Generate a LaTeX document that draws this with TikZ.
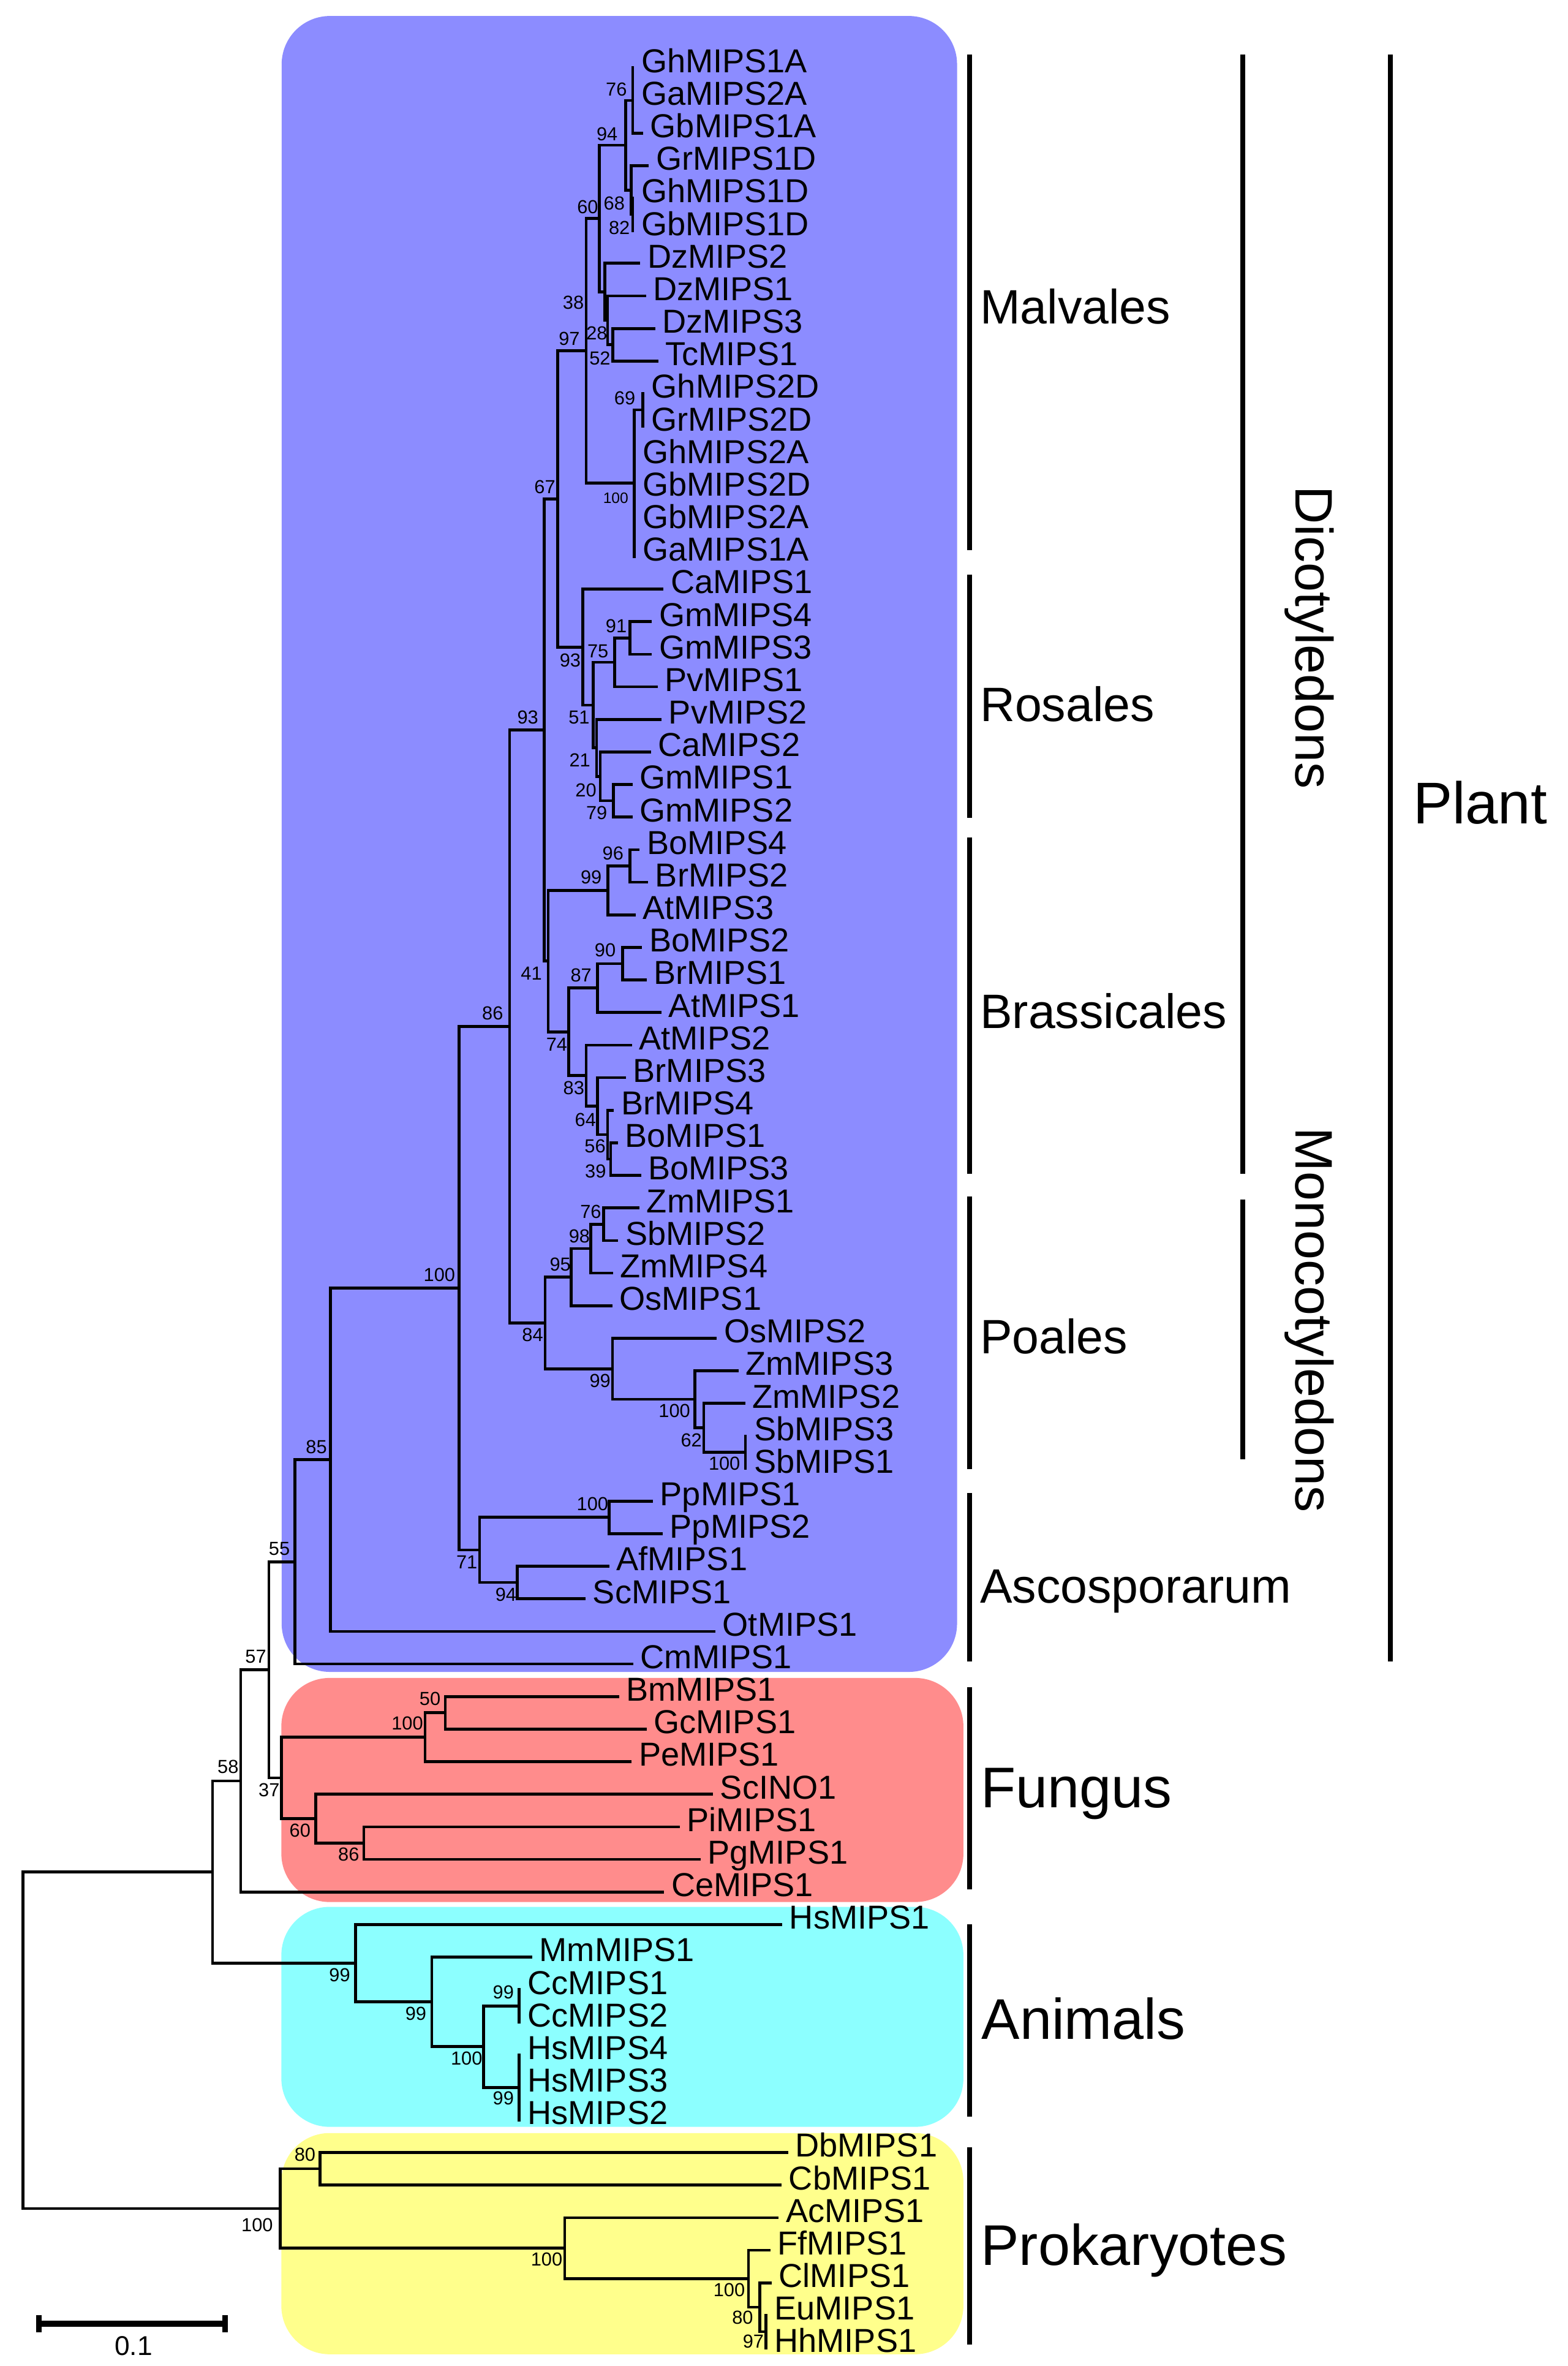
\documentclass[tikz,border=0pt]{standalone}
\usepackage{fontspec}
\setmainfont{Liberation Sans}
\definecolor{plantc}{RGB}{140,140,255}
\definecolor{fungc}{RGB}{255,140,140}
\definecolor{animc}{RGB}{140,255,255}
\definecolor{prokc}{RGB}{255,255,140}
\tikzset{
  br/.style={line width=1.9pt, line cap=rect},
  leaf/.style={anchor=base west, inner sep=0pt, font=\fontsize{22}{24}\selectfont},
  bs/.style={anchor=east, inner sep=0pt, font=\fontsize{12.5}{13}\selectfont},
  bss/.style={anchor=east, inner sep=0pt, font=\fontsize{10}{11}\selectfont},
  ord/.style={anchor=base west, inner sep=0pt, font=\fontsize{32}{34}\selectfont},
  king/.style={anchor=base west, inner sep=0pt, font=\fontsize{38}{40}\selectfont},
  rotlab/.style={anchor=base, inner sep=0pt, rotate=-90, font=\fontsize{35}{37}\selectfont},
  brk/.style={line width=3.2pt},
  boxr/.style={rounded corners=32pt}
}
\newcommand\mkleaf[4]{\coordinate (#1) at (#2,{45+(#3-1)*21.586});\node[leaf] (L#1) at ([xshift=5.5pt,yshift=-3pt]#1) {#4};}
\newcommand\mkbr[2]{\foreach \cc in {#2} {\draw[br] (#1) |- (\cc);}}
\begin{document}
\begin{tikzpicture}[x=1pt,y=-1pt]
\fill[white] (0,0) rectangle (1039,1568);
\useasboundingbox (0,0) rectangle (1039,1568);
% coloured groups
\fill[plantc, boxr] (186.7,10.6) rectangle (634.4,1108);
\fill[fungc, boxr] (186.5,1112) rectangle (638.6,1260.5);
\fill[animc, boxr] (186.5,1263.7) rectangle (638.6,1409.5);
\fill[prokc, boxr] (186.5,1413.6) rectangle (638.6,1560.2);
% leaves
\mkleaf{t1}{419.4}{1}{GhMIPS1A}
\mkleaf{t2}{419.4}{2}{GaMIPS2A}
\mkleaf{t3}{425.4}{3}{GbMIPS1A}
\mkleaf{t4}{429.2}{4}{GrMIPS1D}
\mkleaf{t5}{419.4}{5}{GhMIPS1D}
\mkleaf{t6}{419.4}{6}{GbMIPS1D}
\mkleaf{t7}{423.5}{7}{DzMIPS2}
\mkleaf{t8}{427.2}{8}{DzMIPS1}
\mkleaf{t9}{433.5}{9}{DzMIPS3}
\mkleaf{t10}{435.3}{10}{TcMIPS1}
\mkleaf{t11}{426.2}{11}{GhMIPS2D}
\mkleaf{t12}{426.2}{12}{GrMIPS2D}
\mkleaf{t13}{420.4}{13}{GhMIPS2A}
\mkleaf{t14}{420.4}{14}{GbMIPS2D}
\mkleaf{t15}{420.4}{15}{GbMIPS2A}
\mkleaf{t16}{420.4}{16}{GaMIPS1A}
\mkleaf{t17}{438.9}{17}{CaMIPS1}
\mkleaf{t18}{431.2}{18}{GmMIPS4}
\mkleaf{t19}{431.2}{19}{GmMIPS3}
\mkleaf{t20}{434.9}{20}{PvMIPS1}
\mkleaf{t21}{437.6}{21}{PvMIPS2}
\mkleaf{t22}{430.5}{22}{CaMIPS2}
\mkleaf{t23}{418.3}{23}{GmMIPS1}
\mkleaf{t24}{418.3}{24}{GmMIPS2}
\mkleaf{t25}{423.1}{25}{BoMIPS4}
\mkleaf{t26}{428.7}{26}{BrMIPS2}
\mkleaf{t27}{420.4}{27}{AtMIPS3}
\mkleaf{t28}{424.7}{28}{BoMIPS2}
\mkleaf{t29}{427.6}{29}{BrMIPS1}
\mkleaf{t30}{437.6}{30}{AtMIPS1}
\mkleaf{t31}{418.0}{31}{AtMIPS2}
\mkleaf{t32}{414.0}{32}{BrMIPS3}
\mkleaf{t33}{406.0}{33}{BrMIPS4}
\mkleaf{t34}{408.7}{34}{BoMIPS1}
\mkleaf{t35}{424.1}{35}{BoMIPS3}
\mkleaf{t36}{423.0}{36}{ZmMIPS1}
\mkleaf{t37}{408.9}{37}{SbMIPS2}
\mkleaf{t38}{405.3}{38}{ZmMIPS4}
\mkleaf{t39}{404.9}{39}{OsMIPS1}
\mkleaf{t40}{474.2}{40}{OsMIPS2}
\mkleaf{t41}{488.6}{41}{ZmMIPS3}
\mkleaf{t42}{493.0}{42}{ZmMIPS2}
\mkleaf{t43}{494.1}{43}{SbMIPS3}
\mkleaf{t44}{494.1}{44}{SbMIPS1}
\mkleaf{t45}{431.9}{45}{PpMIPS1}
\mkleaf{t46}{438.4}{46}{PpMIPS2}
\mkleaf{t47}{402.9}{47}{AfMIPS1}
\mkleaf{t48}{387.3}{48}{ScMIPS1}
\mkleaf{t49}{473.3}{49}{OtMIPS1}
\mkleaf{t50}{418.9}{50}{CmMIPS1}
\mkleaf{t51}{409.5}{51}{BmMIPS1}
\mkleaf{t52}{427.7}{52}{GcMIPS1}
\mkleaf{t53}{417.8}{53}{PeMIPS1}
\mkleaf{t54}{471.7}{54}{ScINO1}
\mkleaf{t55}{449.7}{55}{PiMIPS1}
\mkleaf{t56}{463.4}{56}{PgMIPS1}
\mkleaf{t57}{439.3}{57}{CeMIPS1}
\mkleaf{t58}{517.6}{58}{HsMIPS1}
\mkleaf{t59}{351.9}{59}{MmMIPS1}
\mkleaf{t60}{344.1}{60}{CcMIPS1}
\mkleaf{t61}{344.1}{61}{CcMIPS2}
\mkleaf{t62}{344.1}{62}{HsMIPS4}
\mkleaf{t63}{344.1}{63}{HsMIPS3}
\mkleaf{t64}{344.1}{64}{HsMIPS2}
\mkleaf{t65}{521.4}{65}{DbMIPS1}
\mkleaf{t66}{517.2}{66}{CbMIPS1}
\mkleaf{t67}{515.2}{67}{AcMIPS1}
\mkleaf{t68}{509.8}{68}{FfMIPS1}
\mkleaf{t69}{510.6}{69}{ClMIPS1}
\mkleaf{t70}{507.7}{70}{EuMIPS1}
\mkleaf{t71}{507.7}{71}{HhMIPS1}
% internal nodes
\coordinate (n76) at (419.4,66.59);
\coordinate (n82) at (419.4,142.14);
\coordinate (n68) at (418.4,125.95);
\coordinate (n94) at (414.6,96.27);
\coordinate (n52) at (406.2,228.48);
\coordinate (n28) at (402.8,212.29);
\coordinate (n38) at (400.8,193.41);
\coordinate (n60) at (397.4,144.84);
\coordinate (n69) at (426.2,271.66);
\coordinate (n100a) at (420.4,320.23);
\coordinate (n97) at (388.6,232.53);
\coordinate (n91) at (417.7,422.76);
\coordinate (n75) at (407.5,438.95);
\coordinate (n79) at (406.7,530.69);
\coordinate (n20) at (397.9,514.50);
\coordinate (n21) at (395.5,495.61);
\coordinate (n51) at (393.1,467.28);
\coordinate (n93r) at (386.2,428.83);
\coordinate (n67) at (369.6,330.68);
\coordinate (n96) at (417.7,573.86);
\coordinate (n99b) at (403.0,590.05);
\coordinate (n90) at (412.7,638.62);
\coordinate (n87) at (396.0,654.80);
\coordinate (n39) at (404.8,768.13);
\coordinate (n56) at (402.7,751.94);
\coordinate (n64) at (396.0,733.05);
\coordinate (n83) at (388.6,712.82);
\coordinate (n74) at (377.0,683.81);
\coordinate (n41) at (363.4,636.93);
\coordinate (n93b) at (360.8,483.80);
\coordinate (n76p) at (400.1,811.30);
\coordinate (n98) at (391.7,827.49);
\coordinate (n95) at (378.5,846.38);
\coordinate (n100s) at (494.1,962.40);
\coordinate (n62) at (466.5,946.22);
\coordinate (n100z) at (460.6,927.33);
\coordinate (n99p) at (406.0,907.09);
\coordinate (n84) at (361.3,876.74);
\coordinate (n86) at (337.8,680.27);
\coordinate (n100pp) at (403.9,1005.58);
\coordinate (n94a) at (343.0,1048.75);
\coordinate (n71) at (317.9,1027.17);
\coordinate (n100) at (304.3,853.72);
\coordinate (n85) at (218.9,967.43);
\coordinate (nA) at (195.6,1035.07);
\coordinate (n50) at (295.1,1135.10);
\coordinate (n100f) at (281.8,1151.28);
\coordinate (n86f) at (241.2,1221.44);
\coordinate (n60f) at (209.3,1205.25);
\coordinate (n37) at (186.5,1178.27);
\coordinate (nB) at (178.2,1106.67);
\coordinate (nC) at (159.6,1180.25);
\coordinate (nCc) at (344.1,1329.37);
\coordinate (nHs) at (344.1,1383.33);
\coordinate (n100m) at (320.6,1356.35);
\coordinate (n99m) at (286.2,1326.67);
\coordinate (n99h) at (235.7,1301.04);
\coordinate (nD) at (140.9,1240.64);
\coordinate (n80p) at (212.2,1437.30);
\coordinate (n97p) at (507.7,1545.23);
\coordinate (n80q) at (503.6,1529.04);
\coordinate (n100c) at (496.1,1510.15);
\coordinate (n100b) at (374.3,1489.91);
\coordinate (n100pr) at (185.7,1463.60);
\coordinate (root) at (15.3,1352.12);
% branches
\mkbr{n76}{t1,t2,t3}
\mkbr{n82}{t5,t6}
\mkbr{n68}{t4,n82}
\mkbr{n94}{n76,n68}
\mkbr{n52}{t9,t10}
\mkbr{n28}{t8,n52}
\mkbr{n38}{t7,n28}
\mkbr{n60}{n94,n38}
\mkbr{n69}{t11,t12}
\mkbr{n100a}{n69,t13,t14,t15,t16}
\mkbr{n97}{n60,n100a}
\mkbr{n91}{t18,t19}
\mkbr{n75}{n91,t20}
\mkbr{n79}{t23,t24}
\mkbr{n20}{t22,n79}
\mkbr{n21}{t21,n20}
\mkbr{n51}{n75,n21}
\mkbr{n93r}{t17,n51}
\mkbr{n67}{n97,n93r}
\mkbr{n96}{t25,t26}
\mkbr{n99b}{n96,t27}
\mkbr{n90}{t28,t29}
\mkbr{n87}{n90,t30}
\mkbr{n39}{t34,t35}
\mkbr{n56}{t33,n39}
\mkbr{n64}{t32,n56}
\mkbr{n83}{t31,n64}
\mkbr{n74}{n87,n83}
\mkbr{n41}{n99b,n74}
\mkbr{n93b}{n67,n41}
\mkbr{n76p}{t36,t37}
\mkbr{n98}{n76p,t38}
\mkbr{n95}{n98,t39}
\mkbr{n100s}{t43,t44}
\mkbr{n62}{t42,n100s}
\mkbr{n100z}{t41,n62}
\mkbr{n99p}{t40,n100z}
\mkbr{n84}{n95,n99p}
\mkbr{n86}{n93b,n84}
\mkbr{n100pp}{t45,t46}
\mkbr{n94a}{t47,t48}
\mkbr{n71}{n100pp,n94a}
\mkbr{n100}{n86,n71}
\mkbr{n85}{n100,t49}
\mkbr{nA}{n85,t50}
\mkbr{n50}{t51,t52}
\mkbr{n100f}{n50,t53}
\mkbr{n86f}{t55,t56}
\mkbr{n60f}{t54,n86f}
\mkbr{n37}{n100f,n60f}
\mkbr{nB}{nA,n37}
\mkbr{nC}{nB,t57}
\mkbr{nCc}{t60,t61}
\mkbr{nHs}{t62,t63,t64}
\mkbr{n100m}{nCc,nHs}
\mkbr{n99m}{t59,n100m}
\mkbr{n99h}{t58,n99m}
\mkbr{nD}{nC,n99h}
\mkbr{n80p}{t65,t66}
\mkbr{n97p}{t70,t71}
\mkbr{n80q}{t69,n97p}
\mkbr{n100c}{t68,n80q}
\mkbr{n100b}{t67,n100c}
\mkbr{n100pr}{n80p,n100b}
\mkbr{root}{nD,n100pr}
% bootstrap values
\node[bs] (b1) at (415.7,59.2) {76};
\node[bs] (b2) at (409.6,88.9) {94};
\node[bs] (b3) at (396.7,137.1) {60};
\node[bs] (b4) at (414.3,134.9) {68};
\node[bs] (b5) at (417.7,150.9) {82};
\node[bs] (b6) at (387.2,200.6) {38};
\node[bs] (b7) at (402.8,220.9) {28};
\node[bs] (b8) at (384.5,224.6) {97};
\node[bs] (b9) at (404.8,237.6) {52};
\node[bs] (b10) at (421.3,264.0) {69};
\node[bss] (b11) at (416.7,329.9) {100};
\node[bs] (b12) at (368.3,322.9) {67};
\node[bs] (b13) at (415.6,415.0) {91};
\node[bs] (b14) at (403.5,431.5) {75};
\node[bs] (b15) at (385.1,437.6) {93};
\node[bs] (b16) at (391.0,475.5) {51};
\node[bs] (b17) at (391.5,503.9) {21};
\node[bs] (b18) at (395.5,523.6) {20};
\node[bs] (b19) at (402.7,538.9) {79};
\node[bs] (b20) at (357.0,475.5) {93};
\node[bs] (b21) at (413.5,565.4) {96};
\node[bs] (b22) at (399.0,581.4) {99};
\node[bs] (b23) at (408.3,629.8) {90};
\node[bs] (b24) at (392.3,646.5) {87};
\node[bs] (b25) at (359.4,644.9) {41};
\node[bs] (b26) at (333.7,671.4) {86};
\node[bs] (b27) at (376.2,692.3) {74};
\node[bs] (b28) at (387.5,721.2) {83};
\node[bs] (b29) at (395.2,742.1) {64};
\node[bs] (b30) at (401.6,759.7) {56};
\node[bs] (b31) at (401.9,776.4) {39};
\node[bs] (b32) at (398.7,803.2) {76};
\node[bs] (b33) at (391.2,819.1) {98};
\node[bs] (b34) at (378.5,838.0) {95};
\node[bs] (b35) at (301.9,844.8) {100};
\node[bs] (b36) at (360.2,884.8) {84};
\node[bs] (b37) at (404.9,915.2) {99};
\node[bs] (b38) at (457.7,935.1) {100};
\node[bs] (b39) at (465.4,954.5) {62};
\node[bs] (b40) at (490.8,970.0) {100};
\node[bs] (b41) at (216.9,958.8) {85};
\node[bs] (b42) at (403.4,996.7) {100};
\node[bs] (b43) at (316.6,1035.1) {71};
\node[bs] (b44) at (342.5,1056.7) {94};
\node[bs] (b45) at (192.3,1026.3) {55};
\node[bs] (b46) at (176.7,1098.0) {57};
\node[bs] (b47) at (158.3,1170.9) {58};
\node[bs] (b48) at (185.5,1186.1) {37};
\node[bs] (b49) at (292.2,1125.9) {50};
\node[bs] (b50) at (280.6,1141.9) {100};
\node[bs] (b51) at (206.0,1213.0) {60};
\node[bs] (b52) at (238.3,1228.9) {86};
\node[bs] (b53) at (232.3,1308.8) {99};
\node[bs] (b54) at (282.8,1334.5) {99};
\node[bs] (b55) at (340.8,1320.3) {99};
\node[bs] (b56) at (319.9,1364.0) {100};
\node[bs] (b57) at (340.8,1390.7) {99};
\node[bs] (b58) at (209.3,1427.7) {80};
\node[bs] (b59) at (181.1,1474.4) {100};
\node[bs] (b60) at (373.0,1497.4) {100};
\node[bs] (b61) at (494.0,1517.7) {100};
\node[bs] (b62) at (499.4,1536.0) {80};
\node[bs] (b63) at (506.5,1551.6) {97};
% group brackets
\draw[brk] (642.7,36.3) -- (642.7,364.5);
\draw[brk] (642.7,380.8) -- (642.7,542.2);
\draw[brk] (642.7,554.9) -- (642.7,777.8);
\draw[brk] (642.7,793.1) -- (642.7,973.6);
\draw[brk] (642.7,989.5) -- (642.7,1101.0);
\draw[brk] (642.7,1118.3) -- (642.7,1252.2);
\draw[brk] (642.7,1275.2) -- (642.7,1402.7);
\draw[brk] (642.7,1423.1) -- (642.7,1553.9);
\draw[brk] (823.9,36.3) -- (823.9,777.8);
\draw[brk] (823.9,795.0) -- (823.9,967.2);
\draw[brk] (921.7,36.3) -- (921.7,1101.0);
% group labels
\node[ord] (gMal) at (649.5,214.5) {Malvales};
\node[ord] (gRos) at (649.5,478.0) {Rosales};
\node[ord] (gBra) at (649.5,681.5) {Brassicales};
\node[ord] (gPoa) at (649.5,897.0) {Poales};
\node[ord] (gAsc) at (649.5,1062.5) {Ascosporarum};
\node[king] (gFun) at (650,1198.0) {Fungus};
\node[king] (gAni) at (650.5,1351.5) {Animals};
\node[king] (gPro) at (650,1501.0) {Prokaryotes};
\node[rotlab] (gDic) at (858.7,422.5) {Dicotyledons};
\node[rotlab] (gMon) at (858.7,874.7) {Monocotyledons};
\node[anchor=base west, inner sep=0pt, font=\fontsize{39}{41}\selectfont] (gPla) at (936.5,545.8) {Plant};
% scale bar
\coordinate (sbl) at (25.7,1540);
\coordinate (sbr) at (149.2,1540);
\draw[line width=4pt] (sbl) -- (sbr);
\draw[line width=3.5pt] ([yshift=5.8pt]sbl) -- ([yshift=-5.8pt]sbl);
\draw[line width=3.5pt] ([yshift=5.8pt]sbr) -- ([yshift=-5.8pt]sbr);
\node[inner sep=0pt, font=\fontsize{18}{20}\selectfont] (sblab) at (88.5,1554.6) {0.1};
\end{tikzpicture}
\end{document}
